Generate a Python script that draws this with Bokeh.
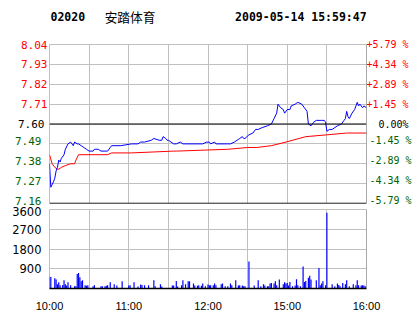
from bokeh.plotting import figure
from bokeh.layouts import column
from bokeh.models import (Range1d, FixedTicker, Span, LinearAxis, Grid)
from bokeh.core.properties import value
from bokeh.embed import file_html
from bokeh.resources import INLINE

# ---------------- data ----------------
stock_code = "02020"
stock_name = "安踏体育"
timestamp = "2009-05-14 15:59:47"

prev_close = 7.60
up_ticks = [7.71, 7.82, 7.93, 8.04]
up_labels = ["7.71", "7.82", "7.93", "8.04"]
up_pct = ["+1.45 %", "+2.89 %", "+4.34 %", "+5.79 %"]
mid_ticks = [7.60]
mid_labels = ["7.60"]
mid_pct = ["0.00%"]
down_ticks = [7.16, 7.27, 7.38, 7.49]
down_labels = ["7.16", "7.27", "7.38", "7.49"]
down_pct = ["-5.79 %", "-4.34 %", "-2.89 %", "-1.45 %"]
price_ticks = down_ticks + mid_ticks + up_ticks

# minutes of trading since 10:00 (12:30 joins 14:30 at minute 150)
time_tick_pos = [0, 60, 120, 180, 240]
time_tick_labels = ["10:00", "11:00", "12:00", "15:00", "16:00"]
time_grid = [0, 30, 60, 90, 120, 150, 180, 210, 240]
vol_ticks = [900, 1800, 2700, 3600]

price_t = [0, 1, 3, 4, 5, 6, 7, 8, 9, 11, 12, 14, 16, 17, 18, 19, 21, 22, 24, 26,
           28, 30, 33, 34, 37, 39, 44, 46, 47, 54, 62, 67, 69, 72, 77, 79, 83, 85, 86, 88,
           89, 90, 92, 94, 96, 99, 101, 116, 119, 121, 122, 125, 126, 135, 137, 140, 142, 144, 146, 147,
           148, 151, 154, 156, 158, 161, 165, 168, 170, 172, 173, 175, 177, 178, 180, 182, 183, 186, 188, 191,
           193, 195, 196, 198, 200, 202, 206, 208, 209, 210, 212, 214, 218, 221, 223, 224, 225, 226, 227, 229,
           231, 233, 234, 235, 237, 238, 240]
price_v = [7.38, 7.25, 7.28, 7.30, 7.34, 7.36, 7.40, 7.39, 7.41, 7.43, 7.46, 7.49, 7.50, 7.49, 7.48, 7.50, 7.49, 7.49, 7.48, 7.47,
           7.46, 7.45, 7.45, 7.46, 7.46, 7.45, 7.45, 7.47, 7.48, 7.48, 7.49, 7.49, 7.50, 7.50, 7.51, 7.52, 7.51, 7.51, 7.53, 7.52,
           7.51, 7.51, 7.50, 7.49, 7.49, 7.50, 7.49, 7.49, 7.50, 7.50, 7.49, 7.50, 7.49, 7.49, 7.49, 7.50, 7.51, 7.52, 7.53, 7.52,
           7.52, 7.54, 7.55, 7.57, 7.57, 7.58, 7.59, 7.60, 7.63, 7.66, 7.71, 7.69, 7.68, 7.66, 7.68, 7.68, 7.70, 7.71, 7.72, 7.71,
           7.69, 7.67, 7.60, 7.59, 7.61, 7.62, 7.62, 7.62, 7.61, 7.56, 7.57, 7.57, 7.59, 7.60, 7.62, 7.63, 7.67, 7.64, 7.63, 7.66,
           7.68, 7.72, 7.70, 7.71, 7.69, 7.70, 7.69]

avg_t = [0, 2, 4, 6, 7, 9, 12, 16, 19, 20, 22, 23, 44, 47, 60, 62, 94, 96, 135, 150,
         157, 168, 179, 194, 210, 225, 240]
avg_v = [7.43, 7.38, 7.36, 7.35, 7.35, 7.36, 7.37, 7.38, 7.38, 7.40, 7.43, 7.43, 7.43, 7.44, 7.44, 7.44, 7.45, 7.45, 7.46, 7.47,
         7.47, 7.48, 7.50, 7.53, 7.54, 7.55, 7.55]

vol_t = [0, 1, 4, 5, 6, 7, 8, 10, 11, 12, 13, 14, 16, 19, 20, 21, 22, 23, 24, 25,
         27, 28, 29, 33, 34, 39, 40, 42, 43, 44, 46, 49, 51, 55, 60, 61, 64, 67, 69, 70,
         72, 75, 79, 80, 84, 85, 93, 94, 96, 97, 100, 101, 103, 105, 106, 109, 110, 112, 113, 115,
         116, 118, 120, 121, 122, 124, 125, 126, 130, 131, 133, 135, 137, 138, 141, 143, 144, 146, 147, 148,
         151, 155, 158, 160, 162, 163, 165, 166, 167, 168, 170, 171, 172, 174, 177, 178, 179, 180, 181, 182,
         184, 186, 187, 188, 190, 192, 193, 194, 196, 197, 198, 202, 204, 205, 206, 207, 209, 210, 214, 216,
         218, 219, 220, 222, 224, 225, 227, 230, 232, 233, 234, 236, 237, 238, 239]
vol_v = [555, 520, 465, 405, 195, 285, 150, 165, 375, 195, 135, 285, 150, 105, 105, 660, 705, 510, 330, 375,
         150, 120, 150, 105, 150, 105, 105, 105, 120, 150, 285, 195, 135, 330, 135, 150, 285, 90, 180, 165,
         150, 150, 375, 105, 195, 90, 135, 135, 345, 90, 150, 375, 195, 330, 330, 225, 135, 120, 150, 120,
         225, 105, 180, 150, 150, 150, 225, 150, 195, 225, 105, 105, 225, 150, 375, 135, 150, 135, 105, 105,
         1230, 135, 375, 105, 195, 135, 105, 105, 225, 255, 225, 330, 150, 405, 195, 285, 225, 255, 135, 300,
         105, 135, 420, 150, 105, 1005, 300, 345, 495, 585, 405, 375, 930, 150, 225, 330, 150, 3450, 195, 105,
         225, 165, 105, 255, 195, 375, 105, 195, 150, 375, 150, 135, 150, 135, 105]

# ---------------- styles ----------------
GRID = "#C0C0C0"
RED = "#FF0000"
GREEN = "#006400"
BLUE = "#0000FF"
MONO = "DejaVu Sans Mono"
LEFT_FS = 11      # px
RIGHT_FS = 10     # px
CELL_L = 0.60205 * LEFT_FS
CELL_R = 0.60205 * RIGHT_FS

FRAME_LEFT, FRAME_RIGHT = 49, 371   # page pixels of the aligned plot frames
P_LO, P_HI = 7.16, 8.04
FRAME_H = 159
lift = 3 * (P_HI - P_LO) / FRAME_H   # lower labels sit ~3px above their lines

# ---------------- header strip ----------------
HEAD_H = 38
p0 = figure(width=414, height=HEAD_H, x_range=Range1d(FRAME_LEFT, FRAME_RIGHT),
            y_range=Range1d(HEAD_H, 0),
            output_backend="svg", toolbar_location=None, title_location=None,
            x_axis_location=None, y_axis_location=None,
            min_border_left=FRAME_LEFT, min_border_right=414 - FRAME_RIGHT,
            min_border_top=0, min_border_bottom=0)
p0.center = [r for r in p0.center if not isinstance(r, Grid)]
p0.outline_line_color = None
p0.text(x=[50], y=[16], text=[stock_code], text_font=value(MONO), text_font_style="bold",
        text_font_size="11.5px", text_baseline="middle", text_align="left", text_color="black")
p0.text(x=[105], y=[16], text=[stock_name], text_font=value("Noto Sans CJK SC"),
        text_font_size="12.7px", text_baseline="middle", text_align="left", text_color="black")
p0.text(x=[237.5], y=[16], text=[timestamp], text_font=value(MONO), text_font_style="bold",
        text_font_size="11.5px", text_baseline="middle", text_align="left", text_color="black")

# ---------------- price panel ----------------
p1 = figure(width=414, height=6 + FRAME_H + 3, x_range=Range1d(0, 240), y_range=Range1d(P_LO, P_HI),
            output_backend="svg", toolbar_location=None, title_location=None,
            x_axis_location=None, y_axis_location=None,
            min_border_left=FRAME_LEFT, min_border_right=414 - FRAME_RIGHT,
            min_border_top=6, min_border_bottom=3)
p1.extra_y_ranges = {"lower": Range1d(P_LO - lift, P_HI - lift)}
p1.center = [r for r in p1.center if not isinstance(r, Grid)]
p1.add_layout(Grid(dimension=0, ticker=FixedTicker(ticks=time_grid), grid_line_color=GRID))
p1.add_layout(Grid(dimension=1, ticker=FixedTicker(ticks=price_ticks), grid_line_color=GRID))
p1.outline_line_color = GRID
p1.background_fill_color = "white"
p1.border_fill_color = "white"

p1.add_layout(Span(location=prev_close, dimension="width", line_color="black", line_width=1))
p1.add_layout(Span(location=P_LO, dimension="width", line_color="black", line_width=1.5))
p1.add_layout(Span(location=240, dimension="height", line_color="#909090", line_width=1))

p1.line(avg_t, avg_v, line_color=RED, line_width=1)
p1.line(price_t, price_v, line_color=BLUE, line_width=1)


def price_axis(ticks, labels, color, standoff, side, size, range_name="default"):
    ax = LinearAxis(ticker=FixedTicker(ticks=ticks),
                    major_label_overrides={t: l for t, l in zip(ticks, labels)},
                    major_tick_line_color=None, minor_tick_line_color=None,
                    major_tick_out=0, major_tick_in=0,
                    axis_line_color=None, major_label_standoff=standoff,
                    major_label_text_color=color, major_label_text_font=MONO,
                    major_label_text_font_size=f"{size}px", y_range_name=range_name)
    p1.add_layout(ax, side)


w4 = int(round(4 * CELL_L))
w7 = int(round(7 * CELL_R))
# left side: the inner axis sets the column, the others fold back onto it
price_axis(up_ticks, up_labels, RED, 2, "left", LEFT_FS)
price_axis(mid_ticks, mid_labels, "black", -w4, "left", LEFT_FS)
price_axis(down_ticks, down_labels, GREEN, -w4, "left", LEFT_FS, "lower")
# right side
price_axis(up_ticks, up_pct, RED, 0, "right", RIGHT_FS)
price_axis(down_ticks, down_pct, GREEN, -w7, "right", RIGHT_FS, "lower")
price_axis(mid_ticks, mid_pct, "black", int(round(CELL_R)) - w7, "right", RIGHT_FS)

# ---------------- volume panel ----------------
p2 = figure(width=414, height=108, x_range=Range1d(0, 240), y_range=Range1d(0, 3600),
            output_backend="svg", toolbar_location=None, title_location=None,
            min_border_left=FRAME_LEFT, min_border_right=414 - FRAME_RIGHT,
            min_border_top=3, min_border_bottom=25)
p2.center = [r for r in p2.center if not isinstance(r, Grid)]
p2.add_layout(Grid(dimension=0, ticker=FixedTicker(ticks=time_grid), grid_line_color=GRID))
p2.add_layout(Grid(dimension=1, ticker=FixedTicker(ticks=[0] + vol_ticks), grid_line_color=GRID))
p2.outline_line_color = GRID
p2.add_layout(Span(location=240, dimension="height", line_color="#909090", line_width=1))

p2.vbar(x=vol_t, top=vol_v, width=0.9, fill_color=BLUE, line_color=None)

xa = p2.xaxis[0]
xa.ticker = FixedTicker(ticks=time_tick_pos)
xa.major_label_overrides = {t: l for t, l in zip(time_tick_pos, time_tick_labels)}
xa.major_tick_line_color = None
xa.minor_tick_line_color = None
xa.axis_line_color = "black"
xa.axis_line_width = 1.5
xa.major_label_standoff = 5
xa.major_label_text_font = "Liberation Sans"
xa.major_label_text_font_size = "11px"
xa.major_label_text_color = "black"

ya = p2.yaxis[0]
ya.ticker = FixedTicker(ticks=vol_ticks)
ya.major_tick_line_color = None
ya.minor_tick_line_color = None
ya.axis_line_color = None
ya.major_label_standoff = 2
ya.major_label_text_font = "DejaVu Sans"
ya.major_label_text_font_size = "11.5px"
ya.major_label_text_color = "black"

layout = column(p0, p1, p2, spacing=0)
open("out.html", "w").write(file_html(layout, INLINE))
